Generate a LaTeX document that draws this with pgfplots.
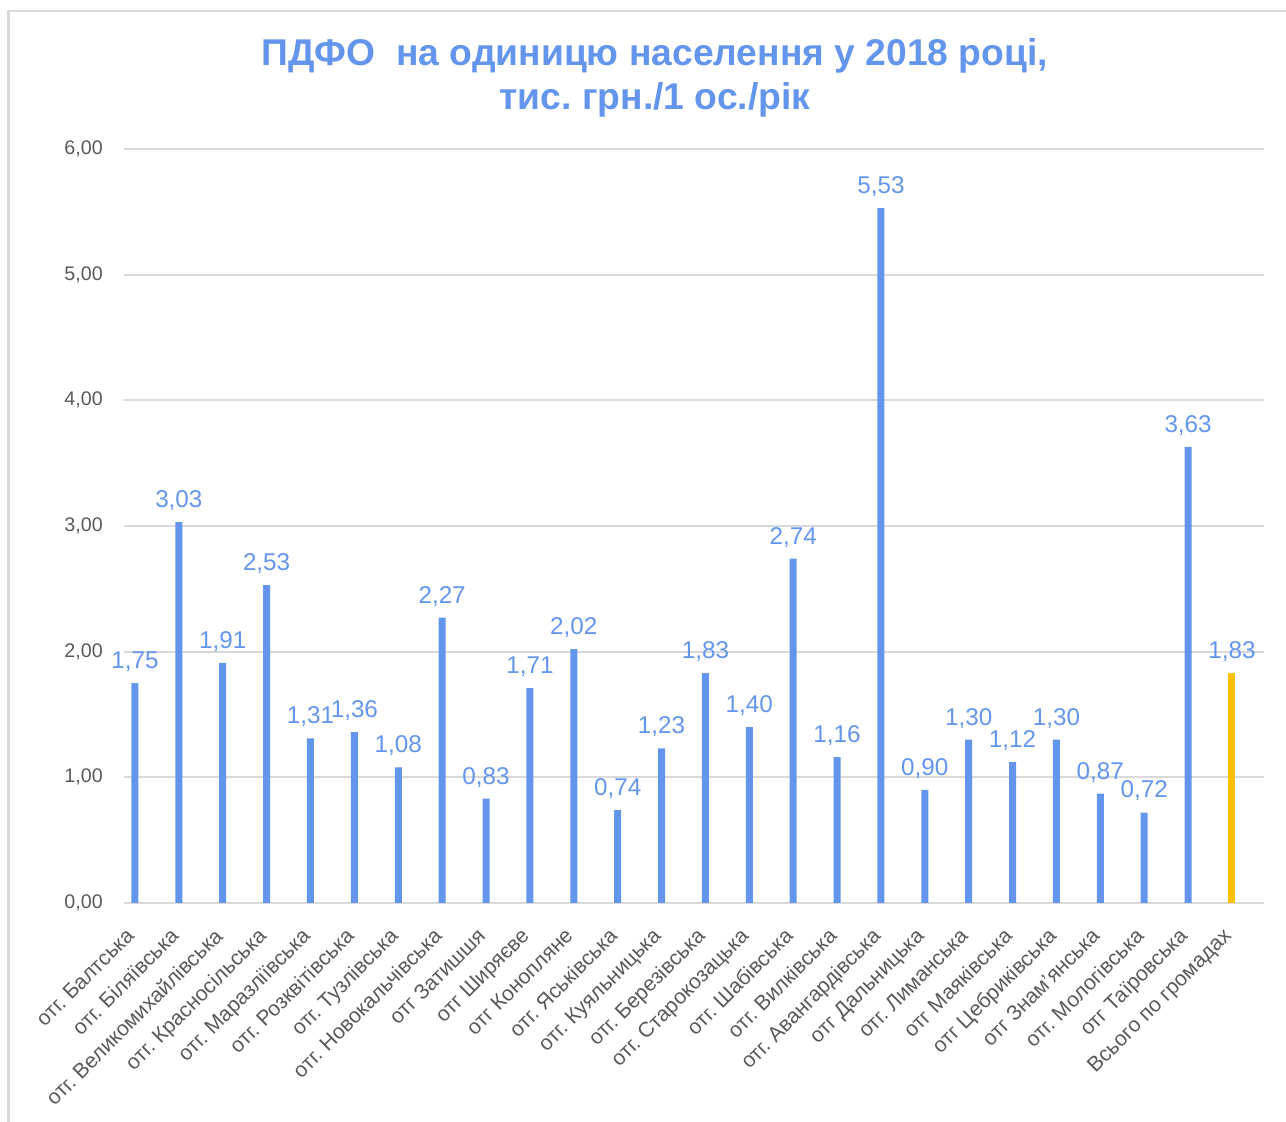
\documentclass[border=0pt]{standalone}
\usepackage{fontspec}
\setmainfont{Liberation Sans}
\usepackage{pgfplots}
\pgfplotsset{compat=1.18}
\definecolor{barblue}{HTML}{6495ED}
\definecolor{bargold}{HTML}{FFC000}
\definecolor{ticktext}{HTML}{595959}
\definecolor{gridgray}{HTML}{D9D9D9}
\frenchspacing
\begin{document}
\frenchspacing
\begin{tikzpicture}
\useasboundingbox (0,0) rectangle (25.72,22.44);
\draw[gridgray, line width=1.5pt] (0.17,-1) -- (0.17,22.22) -- (26,22.22);
\node[align=center, text=barblue, font=\fontsize{21.2}{25}\selectfont\bfseries] at (13.1,20.88) {ПДФО\ \ на одиницю населення у 2018 році,\\тис. грн./1 ос./рік};
\begin{axis}[
  at={(2.48cm,4.38cm)}, anchor=south west,
  scale only axis, width=22.8cm, height=15.08cm,
  xmin=-0.25, xmax=25.73, ymin=0, ymax=6,
  ytick={0,1,...,6},
  ymajorgrids, grid style={gridgray, line width=1pt},
  axis x line*=bottom, axis y line*=left,
  x axis line style={gridgray, line width=1pt, -},
  y axis line style={draw=none},
  major tick length=0pt,
  xtick={0,...,25},
  xticklabels={отг. Балтська, отг. Біляївська, отг. Великомихайлівська, отг. Красносільська, отг. Маразліївська, отг. Розквітівська, отг. Тузлівська, отг. Новокальчівська, отг Затишшя, отг Ширяєве, отг Конопляне, отг. Яськівська, отг. Куяльницька, отг. Березівська, отг. Старокозацька, отг. Шабівська, отг. Вилківська, отг. Авангардівська, отг Дальницька, отг. Лиманська, отг Маяківська, отг Цебриківська, отг Знам’янська, отг. Мологівська, отг Таїровська, Всього по громадах},
  xticklabel style={xshift=-0.2cm, yshift=-0.3cm, rotate=45, anchor=north east, font=\fontsize{12}{14}\selectfont, text=ticktext},
  yticklabel style={font=\fontsize{11.2}{13}\selectfont, text=ticktext, xshift=-0.3cm, /pgf/number format/.cd, fixed, fixed zerofill, precision=2, use comma},
  /pgf/number format/assume math mode=true,
  ybar, bar width=0.14cm,
  nodes near coords={\pgfmathprintnumber[fixed,fixed zerofill,precision=2,use comma,assume math mode=true]{\pgfplotspointmeta}},
  every node near coord/.append style={text=barblue, font=\fontsize{13.8}{16}\selectfont, yshift=3pt},
  clip=false,
]
\addplot[fill=barblue, draw=none, bar shift=0pt] coordinates {
(0,1.75) (1,3.03) (2,1.91) (3,2.53) (4,1.31) (5,1.36) (6,1.08) (7,2.27) (8,0.83) (9,1.71) (10,2.02) (11,0.74) (12,1.23) (13,1.83) (14,1.40) (15,2.74) (16,1.16) (17,5.53) (18,0.90) (19,1.30) (20,1.12) (21,1.30) (22,0.87) (23,0.72) (24,3.63)};
\addplot[fill=bargold, draw=none, bar shift=0pt] coordinates {(25,1.83)};
\end{axis}
\end{tikzpicture}
\end{document}
